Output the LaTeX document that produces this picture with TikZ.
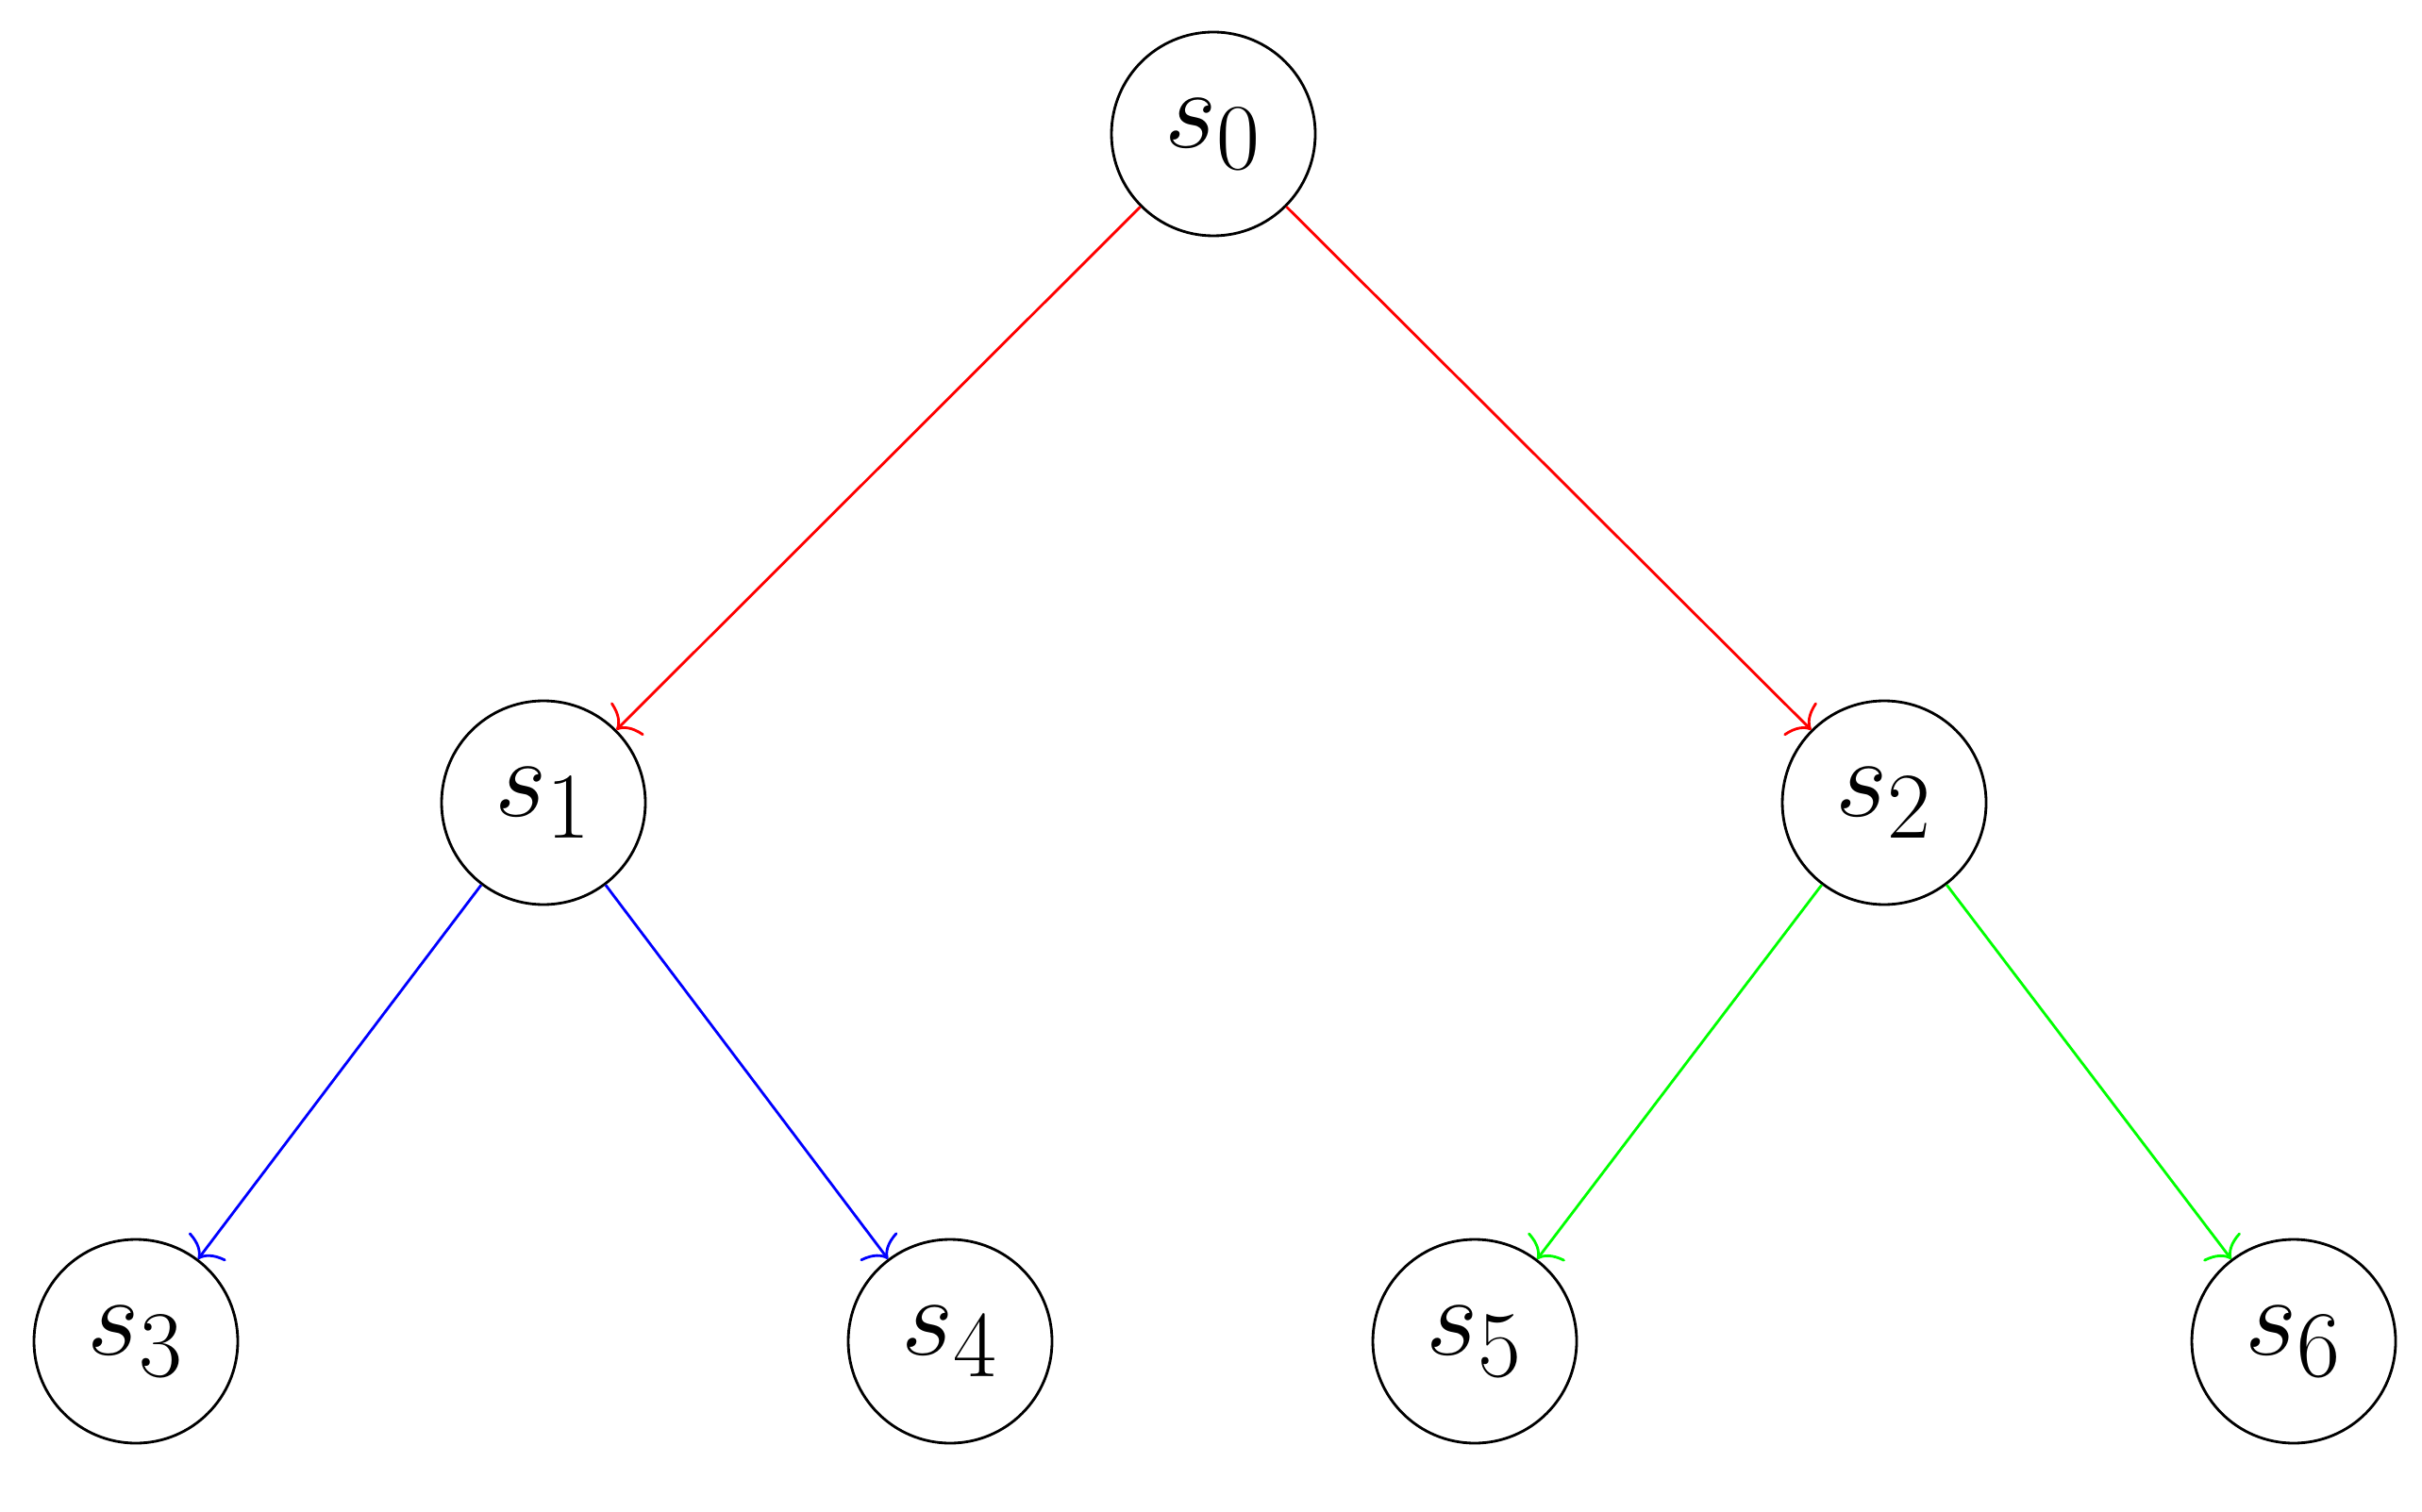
\documentclass[tikz,border=0pt]{standalone}
\usepackage{graphicx}
\usetikzlibrary{arrows.meta}
\newcommand{\statelbl}[1]{\scalebox{1.37}{\Huge$#1$}}
\begin{document}
\begin{tikzpicture}[
  state/.style={circle,draw=black,line width=0.8pt,minimum size=2.16cm,inner sep=0pt},
  edge/.style={line width=0.8pt,-{To[length=5pt,width=14pt]}},
]
\useasboundingbox (0,0) rectangle (25.67,-16.03);
\node[state] (s0) at (12.86,-1.42) {\statelbl{s_0}};
\node[state] (s1) at (5.76,-8.51) {\statelbl{s_1}};
\node[state] (s2) at (19.97,-8.51) {\statelbl{s_2}};
\node[state] (s3) at (1.44,-14.22) {\statelbl{s_3}};
\node[state] (s4) at (10.07,-14.22) {\statelbl{s_4}};
\node[state] (s5) at (15.63,-14.22) {\statelbl{s_5}};
\node[state] (s6) at (24.31,-14.22) {\statelbl{s_6}};
\draw[edge,red] (s0) -- (s1);
\draw[edge,red] (s0) -- (s2);
\draw[edge,blue] (s1) -- (s3);
\draw[edge,blue] (s1) -- (s4);
\draw[edge,green] (s2) -- (s5);
\draw[edge,green] (s2) -- (s6);
\end{tikzpicture}
\end{document}
